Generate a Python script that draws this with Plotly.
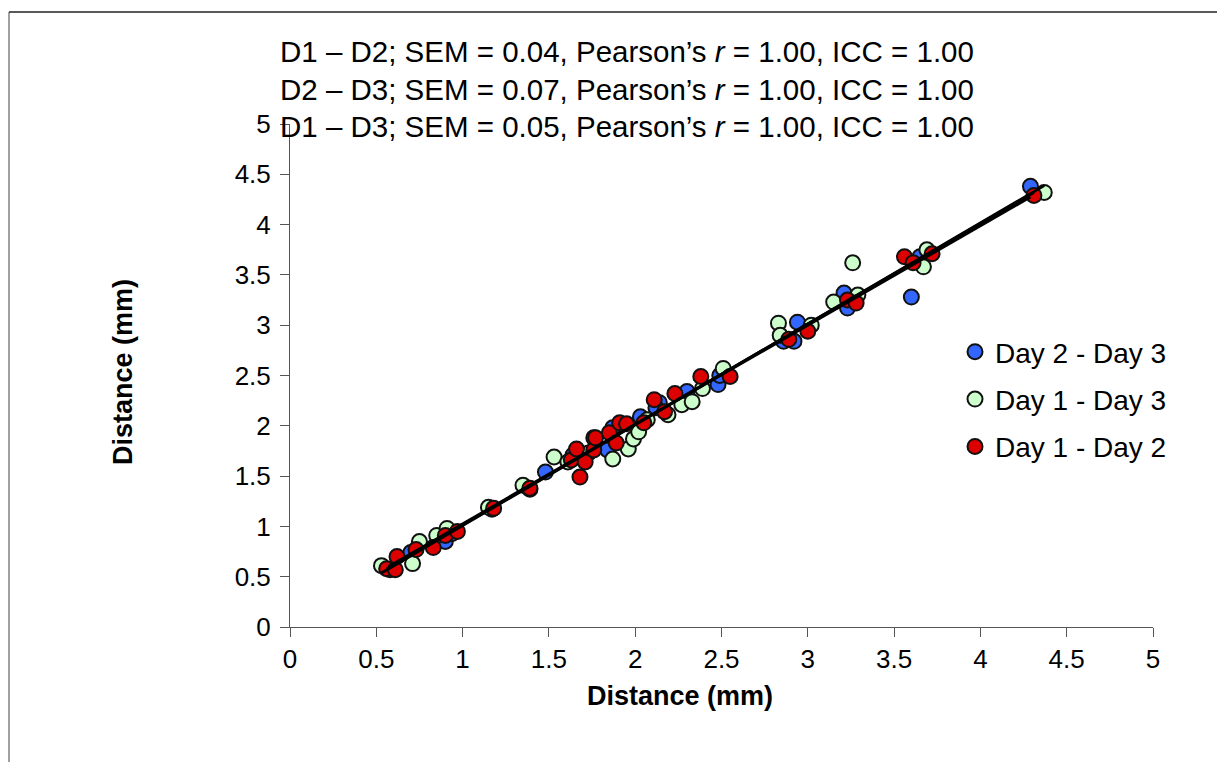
import numpy as np
import plotly.graph_objects as go

# ---- data ----
series_names = ["Day 2 - Day 3", "Day 1 - Day 3", "Day 1 - Day 2"]
series_colors = ["#3366FF", "#CCFFCC", "#DD0000"]

d23_x = [0.58, 0.70, 0.90, 0.94, 1.17, 1.39, 1.48, 1.64, 1.76, 1.84, 1.87, 2.03,
         2.14, 2.12, 2.30, 2.48, 2.49, 2.86, 2.92, 2.94, 3.21, 3.23, 3.60, 3.65, 4.29]
d23_y = [0.57, 0.74, 0.85, 0.93, 1.17, 1.37, 1.54, 1.71, 1.88, 1.76, 1.98, 2.09,
         2.23, 2.18, 2.34, 2.41, 2.50, 2.84, 2.84, 3.03, 3.32, 3.17, 3.28, 3.68, 4.38]

d13_x = [0.53, 0.71, 0.75, 0.85, 0.91, 1.15, 1.35, 1.53, 1.61, 1.73, 1.87, 1.96,
         1.99, 2.02, 2.07, 2.19, 2.27, 2.33, 2.39, 2.51, 2.83, 2.84, 3.02, 3.15,
         3.26, 3.29, 3.67, 3.69, 4.37]
d13_y = [0.61, 0.63, 0.85, 0.91, 0.98, 1.19, 1.41, 1.69, 1.64, 1.73, 1.67, 1.77,
         1.87, 1.94, 2.06, 2.11, 2.21, 2.24, 2.37, 2.57, 3.02, 2.90, 3.00, 3.23,
         3.62, 3.30, 3.58, 3.75, 4.32]

d12_x = [0.56, 0.61, 0.62, 0.73, 0.83, 0.90, 0.97, 1.18, 1.39, 1.63, 1.66, 1.68,
         1.71, 1.76, 1.77, 1.85, 1.89, 1.91, 1.95, 2.05, 2.11, 2.17, 2.23, 2.38,
         2.55, 2.89, 3.00, 3.23, 3.28, 3.56, 3.61, 3.72, 4.31]
d12_y = [0.58, 0.57, 0.70, 0.77, 0.79, 0.91, 0.95, 1.18, 1.38, 1.66, 1.77, 1.49,
         1.64, 1.76, 1.88, 1.93, 1.83, 2.03, 2.02, 2.03, 2.26, 2.14, 2.32, 2.49,
         2.49, 2.86, 2.94, 3.25, 3.22, 3.68, 3.62, 3.71, 4.29]

stats_lines = [
    "D1 \u2013 D2; SEM = 0.04, Pearson\u2019s <i>r</i> = 1.00, ICC = 1.00",
    "D2 \u2013 D3; SEM = 0.07, Pearson\u2019s <i>r</i> = 1.00, ICC = 1.00",
    "D1 \u2013 D3; SEM = 0.05, Pearson\u2019s <i>r</i> = 1.00, ICC = 1.00",
]
tick_vals = [0, 0.5, 1, 1.5, 2, 2.5, 3, 3.5, 4, 4.5, 5]
tick_text = ["0", "0.5", "1", "1.5", "2", "2.5", "3", "3.5", "4", "4.5", "5"]
axis_title = "Distance (mm)"

FONT = "Liberation Sans, Arial, sans-serif"

fig = go.Figure()
all_series = [(d23_x, d23_y), (d13_x, d13_y), (d12_x, d12_y)]
for i, ((xs, ys), name, col) in enumerate(zip(all_series, series_names, series_colors)):
    fig.add_trace(go.Scatter(
        x=xs, y=ys, mode="markers", name=name, legendgroup="g%d" % i,
        marker=dict(color=col, size=15, line=dict(color="#111111", width=2)),
    ))

# linear trend lines for each series
for xs, ys in all_series:
    xa = np.array(xs)
    ya = np.array(ys)
    k, b = np.polyfit(xa, ya, 1)
    lx = np.array([xa.min(), xa.max()])
    fig.add_trace(go.Scatter(
        x=lx, y=k * lx + b, mode="lines", showlegend=False,
        line=dict(color="black", width=2.8), hoverinfo="skip",
    ))

# page offset of the rendered figure (body margin)
OFF = 8
W, H = 1225, 762
# plot area in screen px: x 290..1153, y 124..627
L, R, T, B = 290 - OFF, 1153 - OFF, 124 - OFF, 627 - OFF
pw, ph = R - L, B - T

def px(xs):
    return (xs - OFF - L) / pw

def py(ys):
    return (B - (ys - OFF)) / ph

annotations = []
for txt, yc in zip(stats_lines, [52, 89, 126]):
    annotations.append(dict(
        text=txt, xref="paper", yref="paper", x=px(278), y=py(yc),
        xanchor="left", yanchor="middle", showarrow=False,
        font=dict(family=FONT, size=29.5, color="black"),
    ))
annotations.append(dict(
    text="<b>" + axis_title + "</b>", xref="paper", yref="paper",
    x=px(680), y=py(696), xanchor="center", yanchor="middle", showarrow=False,
    font=dict(family=FONT, size=27, color="black"),
))
annotations.append(dict(
    text="<b>" + axis_title + "</b>", xref="paper", yref="paper",
    x=px(123), y=py(372), xanchor="center", yanchor="middle", showarrow=False,
    textangle=-90, font=dict(family=FONT, size=27, color="black"),
))

shapes = [
    dict(type="line", xref="paper", yref="paper", x0=px(9), x1=px(9),
         y0=py(12), y1=py(800), line=dict(color="#808080", width=1.5)),
    dict(type="line", xref="paper", yref="paper", x0=px(9), x1=px(1218),
         y0=py(12), y1=py(12), line=dict(color="#222222", width=1.5)),
    dict(type="line", xref="paper", yref="paper", x0=px(1218), x1=px(1218),
         y0=py(12), y1=py(800), line=dict(color="#222222", width=1.5)),
]

axis_common = dict(
    range=[0, 5], tickmode="array", tickvals=tick_vals, ticktext=tick_text,
    showgrid=False, zeroline=False, showline=True, linecolor="#555555",
    linewidth=1, ticks="outside", ticklen=9, tickcolor="#555555",
    tickfont=dict(family=FONT, size=26, color="black"),
)

fig.update_layout(
    width=W, height=H,
    margin=dict(l=L, r=W - R, t=T, b=H - B),
    paper_bgcolor="white", plot_bgcolor="white",
    xaxis=dict(**axis_common),
    yaxis=dict(**axis_common, ticklabelstandoff=4),
    showlegend=True,
    legend=dict(
        x=px(955), y=py(327), xanchor="left", yanchor="top",
        font=dict(family=FONT, size=28, color="black"),
        bgcolor="rgba(0,0,0,0)", tracegroupgap=8, traceorder="grouped",
    ),
    annotations=annotations,
    shapes=shapes,
    font=dict(family=FONT),
)

fig.write_html("out.html")
